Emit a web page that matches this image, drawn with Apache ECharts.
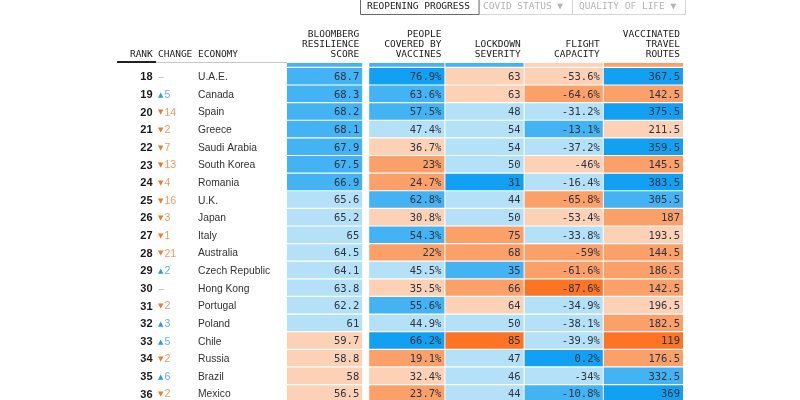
<!DOCTYPE html>
<html><head><meta charset="utf-8">
<script src="https://cdn.jsdelivr.net/npm/echarts@6/dist/echarts.min.js"></script>
<style>html,body{margin:0;padding:0;background:#fff}#chart{width:800px;height:400px}</style>
</head><body><div id="chart"></div>
<script>
// ---------------- DATA ----------------
const ranks = [17,18,19,20,21,22,23,24,25,26,27,28,29,30,31,32,33,34,35,36];
const changes = [0,0,5,-14,-2,-7,-13,-4,-16,-3,-1,-21,2,0,-2,3,5,-2,6,-2];
const economies = ['Sweden','U.A.E.','Canada','Spain','Greece','Saudi Arabia','South Korea','Romania','U.K.','Japan','Italy','Australia','Czech Republic','Hong Kong','Portugal','Poland','Chile','Russia','Brazil','Mexico'];
const resilienceScore = [69.3,68.7,68.3,68.2,68.1,67.9,67.5,66.9,65.6,65.2,65,64.5,64.1,63.8,62.2,61,59.7,58.8,58,56.5];
const vaccineCoverage = [58,76.9,63.6,57.5,47.4,36.7,23,24.7,62.8,30.8,54.3,22,45.5,35.5,55.6,44.9,66.2,19.1,32.4,23.7];
const lockdownSeverity = [37,63,63,48,54,54,50,31,44,50,75,68,35,66,64,50,85,47,46,44];
const flightCapacity = [-50,-53.6,-64.6,-31.2,-13.1,-37.2,-46,-16.4,-65.8,-53.4,-33.8,-59,-61.6,-87.6,-34.9,-38.1,-39.9,0.2,-34,-10.8];
const travelRoutes = [160,367.5,142.5,375.5,211.5,359.5,145.5,383.5,305.5,187,193.5,144.5,186.5,142.5,196.5,182.5,119,176.5,332.5,369];
const metricHeaders = [['BLOOMBERG','RESILIENCE','SCORE'],['PEOPLE','COVERED BY','VACCINES'],['LOCKDOWN','SEVERITY'],['FLIGHT','CAPACITY'],['VACCINATED','TRAVEL','ROUTES']];
const metricSuffix = ['','%','','%',''];
const labelHeaders = ['RANK','CHANGE','ECONOMY'];
const tabLabels = ['REOPENING PROGRESS','COVID STATUS \u25BC','QUALITY OF LIFE \u25BC'];

const metrics = [resilienceScore, vaccineCoverage, lockdownSeverity, flightCapacity, travelRoutes];

// ---------------- STYLE ----------------
const C = {db:'#12a0f2', mb:'#44b3f4', lb:'#b5e1f8', pe:'#fdd1b6', mo:'#fca06a', dk:'#fc7424'};
const colorPieces = [
  [{gte:70,color:C.db},{gte:66,lt:70,color:C.mb},{gte:60,lt:66,color:C.lb},{gte:55,lt:60,color:C.pe},{gte:50,lt:55,color:C.mo},{lt:50,color:C.dk}],
  [{gte:65,color:C.db},{gte:50,lt:65,color:C.mb},{gte:40,lt:50,color:C.lb},{gte:30,lt:40,color:C.pe},{gte:15,lt:30,color:C.mo},{lt:15,color:C.dk}],
  [{lt:33,color:C.db},{gte:33,lt:40,color:C.mb},{gte:40,lt:60,color:C.lb},{gte:60,lt:65,color:C.pe},{gte:65,lt:80,color:C.mo},{gte:80,color:C.dk}],
  [{gte:-5,color:C.db},{gte:-15,lt:-5,color:C.mb},{gte:-42,lt:-15,color:C.lb},{gte:-56,lt:-42,color:C.pe},{gte:-75,lt:-56,color:C.mo},{lt:-75,color:C.dk}],
  [{gte:350,color:C.db},{gte:300,lt:350,color:C.mb},{gte:250,lt:300,color:C.lb},{gte:190,lt:250,color:C.pe},{gte:125,lt:190,color:C.mo},{lt:125,color:C.dk}]
];
const MONO = 'DejaVu Sans Mono';
const SANS = 'Liberation Sans';
const ROW_H = 17.62;
const TOP = 63;
const GRID_H = 400 - TOP;
const Y_MIN = 17.5 - (68 - TOP) / ROW_H;
const Y_MAX = Y_MIN + GRID_H / ROW_H;
const M_LEFT = 287, M_WIDTH = 396, L_LEFT = 117, L_WIDTH = 170;

const chart = echarts.init(document.getElementById('chart'), null, {renderer:'canvas'});

function cellRenderer(c) {
  return function (params, api) {
    const ctr = api.coord([api.value(0), api.value(1)]);
    const sz = api.size([1, 1]);
    let x0 = ctr[0] - sz[0] / 2, x1 = ctr[0] + sz[0] / 2;
    if (c === 0) x1 -= 4;
    if (c === 1) x0 += 3;
    if (c > 0 && c < 4) x1 -= 1;
    const y0 = ctr[1] - sz[1] / 2, h = sz[1] - 1.2;
    return {type:'group', children:[
      {type:'rect', shape:{x:x0, y:y0, width:x1 - x0, height:h}, style:{fill:api.visual('color')}},
      {type:'text', x:x1 - 3, y:y0 + h / 2 + 1.2, style:{text:String(api.value(2)) + metricSuffix[c], align:'right', verticalAlign:'middle', fontFamily:MONO, fontSize:10.5, fill:'#2b3440'}}
    ]};
  };
}

function labelRenderer(params, api) {
  const cs = params.coordSys;
  const r = api.value(1);
  const ch = api.value(2);
  const y = api.coord([0, r])[1] + 0.6;
  const kids = [
    {type:'text', x:cs.x + 35.5, y:y, style:{text:String(r), align:'right', verticalAlign:'middle', fontFamily:SANS, fontWeight:'bold', fontSize:11, fill:'#1a1a1a'}},
    {type:'text', x:cs.x + 81, y:y, style:{text:economies[params.dataIndex], align:'left', verticalAlign:'middle', fontFamily:SANS, fontSize:10.3, fill:'#333'}}
  ];
  if (ch === 0) {
    kids.push({type:'text', x:cs.x + 41.5, y:y, style:{text:'\u2013', align:'left', verticalAlign:'middle', fontFamily:SANS, fontSize:10, fill:'#bbb'}});
  } else {
    const up = ch > 0;
    kids.push({type:'text', x:cs.x + 41, y:y, style:{text:up ? '\u25B2' : '\u25BC', align:'left', verticalAlign:'middle', fontFamily:'DejaVu Sans', fontSize:7, fill:up ? '#2d9be0' : '#ee7a30'}});
    kids.push({type:'text', x:cs.x + 47.5, y:y, style:{text:String(Math.abs(ch)), align:'left', verticalAlign:'middle', fontFamily:SANS, fontSize:10.5, fill:up ? '#5fb3ea' : '#f39a64'}});
  }
  return {type:'group', children:kids};
}

const series = metrics.map((vals, c) => ({
  type:'custom', xAxisIndex:0, yAxisIndex:0, clip:true,
  encode:{x:0, y:1},
  data: ranks.map((r, i) => [c, r, vals[i]]),
  renderItem: cellRenderer(c)
}));
series.push({
  type:'custom', xAxisIndex:1, yAxisIndex:1, clip:true,
  encode:{x:0, y:1},
  data: ranks.map((r, i) => [0.5, r, changes[i]]),
  renderItem: labelRenderer
});

// header / decoration graphics
const graphics = [];
const bw = M_WIDTH / 5;
metricHeaders.forEach((lines, c) => {
  let right = M_LEFT + (c + 1) * bw - 3;
  if (c === 0) right -= 4;
  if (c > 0 && c < 4) right -= 1;
  lines.forEach((t, k) => {
    graphics.push({type:'text', x:right, y:54.5 - (lines.length - 1 - k) * 10, style:{text:t, align:'right', verticalAlign:'middle', fontFamily:MONO, fontSize:9.5, fill:'#1c1c1c'}});
  });
});
const labelX = [L_LEFT + 35.8, L_LEFT + 41, L_LEFT + 81];
const labelAlign = ['right','left','left'];
labelHeaders.forEach((t, k) => {
  graphics.push({type:'text', x:labelX[k], y:54.5, style:{text:t, align:labelAlign[k], verticalAlign:'middle', fontFamily:MONO, fontSize:9.5, fill:'#1c1c1c'}});
});
graphics.push({type:'rect', shape:{x:L_LEFT, y:62, width:M_LEFT - L_LEFT, height:1}, style:{fill:'#c8c8c8'}});
graphics.push({type:'rect', shape:{x:L_LEFT, y:61, width:39, height:2}, style:{fill:'#222'}});
// tabs
const tabBoxes = [[360.5,118.5],[479,93.5],[572.5,113]];
const tabTextX = [367, 483, 579];
[2,1,0].forEach(k => {
  graphics.push({type:'rect', shape:{x:tabBoxes[k][0], y:-2, width:tabBoxes[k][1], height:16.5}, style:{fill:'#fff', stroke:k === 0 ? '#6a6a6a' : '#d6d6d6', lineWidth:1}});
  graphics.push({type:'text', x:tabTextX[k], y:6.8, style:{text:tabLabels[k], align:'left', verticalAlign:'middle', fontFamily:MONO, fontSize:9.5, fill:k === 0 ? '#1c1c1c' : '#b4b4b4'}});
});

chart.setOption({
  animation:false,
  backgroundColor:'#fff',
  grid:[
    {left:M_LEFT, top:TOP, width:M_WIDTH, height:GRID_H},
    {left:L_LEFT, top:TOP, width:L_WIDTH, height:GRID_H}
  ],
  xAxis:[
    {type:'category', gridIndex:0, data:metricHeaders.map(h => h.join(' ')), show:false},
    {type:'value', gridIndex:1, min:0, max:1, show:false}
  ],
  yAxis:[
    {type:'value', gridIndex:0, inverse:true, min:Y_MIN, max:Y_MAX, show:false},
    {type:'value', gridIndex:1, inverse:true, min:Y_MIN, max:Y_MAX, show:false}
  ],
  visualMap: colorPieces.map((pieces, c) => ({type:'piecewise', show:false, seriesIndex:c, dimension:2, pieces:pieces})),
  graphic: graphics,
  series: series
});
</script>
</body></html>
